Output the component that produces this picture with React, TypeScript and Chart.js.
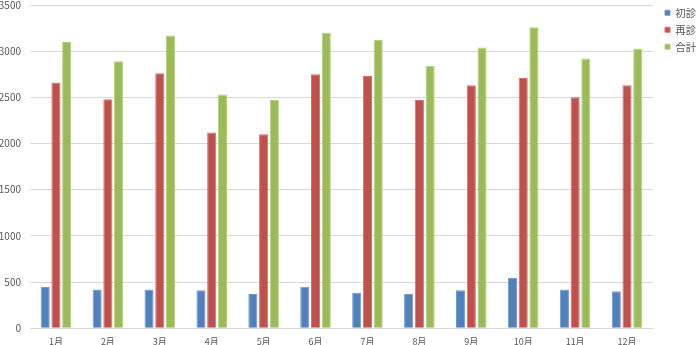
import React, { useEffect, useRef } from "react";
import { Chart, registerables } from "chart.js";

Chart.register(...registerables);

const months = ["1月", "2月", "3月", "4月", "5月", "6月", "7月", "8月", "9月", "10月", "11月", "12月"];
const shoshin = [445, 420, 418, 410, 370, 450, 385, 370, 410, 545, 420, 400];
const saishin = [2660, 2480, 2760, 2120, 2100, 2750, 2730, 2470, 2630, 2710, 2500, 2630];
const goukei = [3100, 2890, 3170, 2530, 2470, 3200, 3120, 2840, 3040, 3260, 2920, 3030];
const seriesNames = ["初診", "再診", "合計"];
const yTicks = [0, 500, 1000, 1500, 2000, 2500, 3000, 3500];

const legendTweak = {
  id: "legendTweak",
  beforeLayout(chart: any) {
    const lg = chart.legend;
    if (lg && !lg._patched) {
      const orig = lg.fit.bind(lg);
      lg.fit = () => {
        orig();
        lg.width = 47;
      };
      lg._patched = true;
    }
  },
  afterLayout(chart: any) {
    const lg = chart.legend;
    if (lg) {
      lg.left = 665 - 6.5;
      lg.top = 1;
    }
  },
};

export default function App() {
  const ref = useRef<HTMLCanvasElement | null>(null);
  useEffect(() => {
    document.body.style.margin = "0";
    const ctx = ref.current!.getContext("2d")!;
    const family = "'Noto Sans CJK JP', 'Noto Sans', sans-serif";
    const chart = new Chart(ctx, {
      type: "bar",
      data: {
        labels: months,
        datasets: [
          { label: seriesNames[0], data: shoshin, backgroundColor: "#4f81bd", borderColor: "#6f9ad0", borderWidth: 1 },
          { label: seriesNames[1], data: saishin, backgroundColor: "#c0504d", borderColor: "#d4706d", borderWidth: 1 },
          { label: seriesNames[2], data: goukei, backgroundColor: "#9bbb59", borderColor: "#b3d07a", borderWidth: 1 },
        ],
      },
      plugins: [legendTweak],
      options: {
        responsive: false,
        animation: false,
        layout: { padding: { top: 5, left: 0, right: 0, bottom: -10 } },
        datasets: { bar: { categoryPercentage: 0.62, barPercentage: 0.85 } },
        plugins: {
          legend: {
            position: "right",
            align: "start",
            labels: {
              boxWidth: 5,
              boxHeight: 5,
              padding: 6.5,
              color: "#595959",
              font: { family, size: 10.5 },
            },
          },
          tooltip: { enabled: false },
        },
        scales: {
          x: {
            grid: { display: false, drawTicks: false },
            border: { display: true, color: "#d9d9d9" },
            ticks: { color: "#595959", font: { family, size: 9 }, padding: 8, maxRotation: 0 },
          },
          y: {
            min: 0,
            max: 3500,
            afterBuildTicks: (axis: any) => {
              axis.ticks = yTicks.map((v) => ({ value: v }));
            },
            afterFit: (axis: any) => {
              axis.paddingTop = 0;
              axis.width = 30;
            },
            grid: { color: "#d9d9d9", drawTicks: false },
            border: { display: false },
            ticks: {
              color: "#595959",
              font: { family, size: 10 },
              padding: 9,
              callback: (v: any) => String(v),
            },
          },
        },
      },
    });
    return () => chart.destroy();
  }, []);
  return (
    <div style={{ position: "absolute", left: 0, top: 0, width: 700, height: 345 }}>
      <canvas ref={ref} width={700} height={345} />
    </div>
  );
}
